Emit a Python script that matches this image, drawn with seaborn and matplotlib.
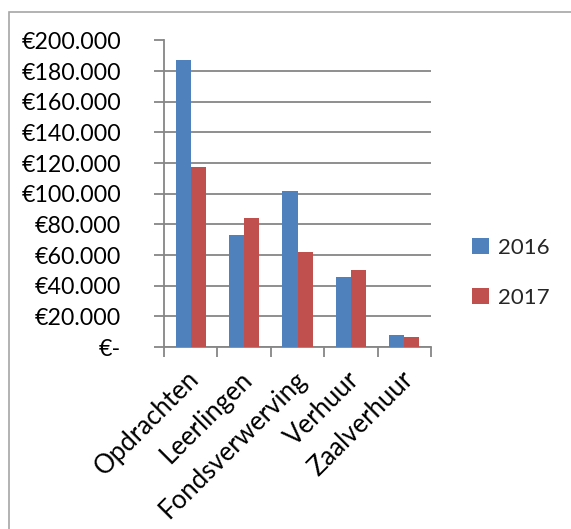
import matplotlib
matplotlib.use("Agg")
import matplotlib.pyplot as plt
import matplotlib.ticker as mticker
import matplotlib.transforms as mtransforms
from matplotlib.patches import Rectangle
import seaborn as sns
import pandas as pd

categories = ["Opdrachten", "Leerlingen", "Fondsverwerving", "Verhuur", "Zaalverhuur"]
values_2016 = [187500, 73000, 101500, 45500, 8000]
values_2017 = [117500, 84500, 62000, 50500, 6800]
series = ["2016", "2017"]
yticks = [0, 20000, 40000, 60000, 80000, 100000, 120000, 140000, 160000, 180000, 200000]

df = pd.DataFrame({
    "categorie": categories * 2,
    "jaar": [series[0]] * len(categories) + [series[1]] * len(categories),
    "bedrag": values_2016 + values_2017,
})

sns.set_theme(style="white")
plt.rcParams["font.family"] = ["Lato", "DejaVu Sans"]

fig = plt.figure(figsize=(5.71, 5.29), dpi=100)
ax = fig.add_axes([164 / 571, 1 - 347 / 529, (431 - 164) / 571, (347 - 40.5) / 529])

sns.barplot(data=df, x="categorie", y="bedrag", hue="jaar", order=categories,
            hue_order=series, palette=["#4F81BD", "#C0504D"], width=0.565,
            gap=0, saturation=1, edgecolor="none", ax=ax, zorder=3)

ax.set_xlim(-0.5, len(categories) - 0.5)
ax.set_ylim(0, 200000)
ax.set_yticks(yticks)

def fmt(v, pos):
    if v == 0:
        return "€-"
    return "€" + f"{int(v):,}".replace(",", ".")

ax.yaxis.set_major_formatter(mticker.FuncFormatter(fmt))
ax.grid(axis="y", color="#868686", linewidth=1.3, zorder=0)
ax.set_axisbelow(True)
for s in ["top", "right"]:
    ax.spines[s].set_visible(False)
ax.spines["left"].set_color("#868686")
ax.spines["left"].set_linewidth(1.3)
ax.spines["bottom"].set_color("#868686")
ax.spines["bottom"].set_linewidth(1.3)

ax.tick_params(axis="y", which="major", direction="out", length=7, width=1.3,
               color="#868686", labelsize=16.7, labelcolor="black", pad=24, left=True)
ax.set_xticks([i - 0.5 for i in range(len(categories) + 1)], minor=True)
ax.tick_params(axis="x", which="minor", direction="out", length=7, width=1.3,
               color="#868686", bottom=True)
ax.tick_params(axis="x", which="major", length=0, labelsize=18.5, labelcolor="black", pad=14)
offset = mtransforms.ScaledTranslation(-4 / 100, 0, fig.dpi_scale_trans)
for lbl in ax.get_xticklabels():
    lbl.set_rotation(45)
    lbl.set_ha("right")
    lbl.set_rotation_mode("anchor")
    lbl.set_transform(lbl.get_transform() + offset)

ax.set_xlabel("")
ax.set_ylabel("")

handles, labels = ax.get_legend_handles_labels()
ax.legend(handles, labels, loc="center left", bbox_to_anchor=(452 / 571, 1 - 273 / 529),
          bbox_transform=fig.transFigure, frameon=False, fontsize=16,
          handlelength=0.75, handleheight=0.75, handletextpad=0.4, labelspacing=1.35)

fig.patches.append(Rectangle((8.5 / 571, -0.1), 2, 1 - 11.7 / 529 + 0.1,
                             transform=fig.transFigure, fill=False,
                             edgecolor="#a6a6a6", linewidth=1.2))

fig.savefig("out.png", dpi=100)
